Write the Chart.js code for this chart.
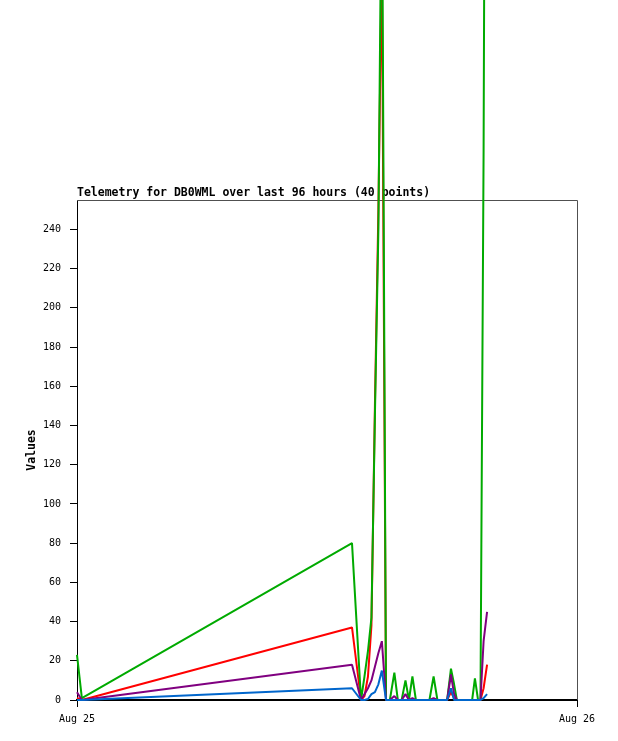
<!DOCTYPE html>
<html>
<head>
<meta charset="utf-8">
<title>Telemetry for DB0WML</title>
<script src="https://cdn.jsdelivr.net/npm/chart.js@4.4.1/dist/chart.umd.min.js"></script>
<style>
    body { margin: 0; background: #fff; }
    #wrap { width: 618px; height: 741px; }
</style>
</head>
<body>
<div id="wrap"><canvas id="telemetry-chart" width="618" height="741"></canvas></div>
<script>
// sample times (Aug 25, HH:MM)
const times = ['00:00', '00:14', '13:12', '13:38', '13:48', '13:58', '14:08', '14:18', '14:28', '14:38',
    '14:50', '15:01', '15:14', '15:24', '15:35', '15:46', '15:56', '16:06', '16:16', '16:26',
    '16:36', '16:47', '16:55', '17:07', '17:18', '17:27', '17:37', '17:46', '17:57', '18:06',
    '18:14', '18:26', '18:37', '18:47', '18:58', '19:06', '19:15', '19:22', '19:31', '19:41']

const greenValues = [23, 1, 80, 0, 12, 25, 42, 145, 240, 440,
    0, 0, 14, 0, 0, 10, 0, 12, 0, 0,
    0, 0, 0, 12, 0, 0, 0, 0, 16, 8,
    0, 0, 0, 0, 0, 11, 0, 0, 280, 790]
const redValues = [1, 0, 37, 0, 2, 12, 38, 150, 250, 380,
    0, 0, 0, 0, 0, 0, 0, 0, 0, 0,
    0, 0, 0, 0, 0, 0, 0, 0, 4, 1,
    0, 0, 0, 0, 0, 0, 0, 0, 6, 18]
const purpleValues = [4, 0, 18, 0, 3, 6, 10, 17, 24, 30,
    0, 0, 2, 0, 0, 3, 0, 1, 0, 0,
    0, 0, 0, 1, 0, 0, 0, 0, 13, 3,
    0, 0, 0, 0, 0, 0, 0, 0, 30, 45]
const blueValues = [0, 0, 6, 0, 0, 0.5, 3, 4, 8, 15,
    0, 0, 0, 0, 0, 0, 0, 0, 0, 0,
    0, 0, 0, 0, 0, 0, 0, 0, 6, 0,
    0, 0, 0, 0, 0, 0, 0, 0, 1, 3]

const xTickValues = [0, 1440]
const xTickLabels = ['Aug 25', 'Aug 26']
const yTickValues = [0, 20, 40, 60, 80, 100, 120, 140, 160, 180, 200, 220, 240]

const titleText = 'Telemetry for DB0WML over last 96 hours (40 points)'

function toMinutes(t) {
    const parts = t.split(':')
    return parseInt(parts[0]) * 60 + parseInt(parts[1])
}

function makeSeries(values) {
    return values.map((v, i) => ({ x: toMinutes(times[i]), y: v }))
}

function lineDataset(label, values, color) {
    return {
        label: label,
        data: makeSeries(values),
        borderColor: color,
        backgroundColor: color,
        borderWidth: 2,
        pointRadius: 0,
        tension: 0,
        fill: false,
        clip: false,
        borderJoinStyle: 'bevel'
    }
}

const tickFont = { family: 'DejaVu Sans Mono', size: 10 }
const boldFont = { family: 'DejaVu Sans Mono', size: 11.5, weight: 'bold' }

// frame (top/right) and title, drawn under the lines
const framePlugin = {
    id: 'frame',
    beforeDatasetsDraw(chart) {
        const ctx = chart.ctx
        const a = chart.chartArea
        ctx.save()
        ctx.strokeStyle = '#505050'
        ctx.lineWidth = 1
        ctx.beginPath()
        ctx.moveTo(a.left, Math.round(a.top) + 0.5)
        ctx.lineTo(Math.round(a.right) + 0.5, Math.round(a.top) + 0.5)
        ctx.lineTo(Math.round(a.right) + 0.5, a.bottom)
        ctx.stroke()
        ctx.fillStyle = '#000'
        ctx.font = 'bold 11.5px "DejaVu Sans Mono"'
        ctx.textBaseline = 'alphabetic'
        ctx.textAlign = 'left'
        ctx.fillText(titleText, a.left, a.top - 4)
        ctx.restore()
    }
}

new Chart(document.getElementById('telemetry-chart').getContext('2d'), {
    type: 'line',
    data: {
        datasets: [
            lineDataset('Blue', blueValues, '#0066cc'),
            lineDataset('Purple', purpleValues, '#800080'),
            lineDataset('Green', greenValues, '#00aa00'),
            lineDataset('Red', redValues, '#ff0000')
        ]
    },
    plugins: [framePlugin],
    options: {
        responsive: false,
        animation: false,
        devicePixelRatio: 1,
        layout: { padding: { left: 0, right: 41, top: 200, bottom: 0 } },
        plugins: {
            legend: { display: false },
            tooltip: { enabled: false },
            title: { display: false }
        },
        scales: {
            x: {
                type: 'linear',
                min: 0,
                max: 1440,
                afterBuildTicks: (scale) => { scale.ticks = xTickValues.map(v => ({ value: v })) },
                afterFit: (scale) => { scale.height = 41 },
                ticks: {
                    callback: (v) => xTickLabels[xTickValues.indexOf(v)],
                    font: tickFont,
                    color: '#000',
                    padding: 6,
                    maxRotation: 0,
                    autoSkip: false
                },
                grid: { drawOnChartArea: false, tickLength: 7, color: '#000' },
                border: { color: '#000', width: 2 }
            },
            y: {
                min: 0,
                max: 255,
                afterBuildTicks: (scale) => { scale.ticks = yTickValues.map(v => ({ value: v })) },
                afterFit: (scale) => { scale.width = 77 },
                ticks: {
                    font: tickFont,
                    color: '#000',
                    padding: 9
                },
                grid: { drawOnChartArea: false, tickLength: 7, color: '#000' },
                border: { color: '#000', width: 1 },
                title: {
                    display: true,
                    text: 'Values',
                    font: boldFont,
                    color: '#000',
                    padding: { top: 25, bottom: 0 }
                }
            }
        }
    }
})
</script>
</body>
</html>
